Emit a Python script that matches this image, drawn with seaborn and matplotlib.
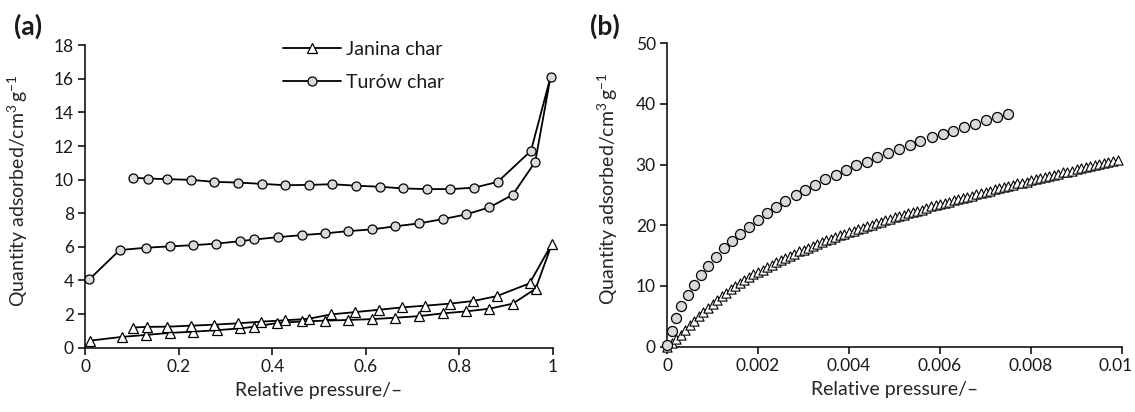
import matplotlib
matplotlib.use("Agg")
import matplotlib.pyplot as plt
import matplotlib.transforms as mtransforms
import seaborn as sns
import pandas as pd

# ---------------- data: panel (a) ----------------
turow_ads_x = [0.009, 0.074, 0.130, 0.181, 0.230, 0.279, 0.332, 0.362, 0.413, 0.463, 0.512,
               0.563, 0.613, 0.662, 0.714, 0.764, 0.814, 0.864, 0.914, 0.962, 0.995]
turow_ads_y = [4.06, 5.81, 5.95, 6.03, 6.10, 6.19, 6.34, 6.44, 6.58, 6.70, 6.80,
               6.94, 7.04, 7.22, 7.40, 7.65, 7.93, 8.35, 9.10, 11.06, 16.14]
turow_des_x = [0.953, 0.882, 0.831, 0.781, 0.730, 0.679, 0.630, 0.580, 0.528, 0.479,
               0.428, 0.379, 0.326, 0.276, 0.227, 0.176, 0.135, 0.103]
turow_des_y = [11.72, 9.87, 9.52, 9.44, 9.44, 9.48, 9.58, 9.64, 9.73, 9.69,
               9.67, 9.75, 9.83, 9.87, 9.99, 10.03, 10.07, 10.11]

janina_ads_x = [0.011, 0.078, 0.130, 0.181, 0.230, 0.281, 0.332, 0.362, 0.411, 0.463, 0.512,
                0.563, 0.613, 0.662, 0.714, 0.764, 0.814, 0.864, 0.914, 0.963, 0.998]
janina_ads_y = [0.42, 0.64, 0.76, 0.88, 0.95, 1.04, 1.15, 1.25, 1.47, 1.56, 1.61,
                1.65, 1.70, 1.78, 1.88, 2.04, 2.16, 2.32, 2.62, 3.51, 6.20]
janina_des_x = [0.950, 0.880, 0.830, 0.779, 0.727, 0.678, 0.629, 0.578, 0.525, 0.478,
                0.427, 0.377, 0.326, 0.276, 0.226, 0.176, 0.133, 0.102]
janina_des_y = [3.83, 3.07, 2.78, 2.62, 2.50, 2.40, 2.26, 2.12, 1.98, 1.72,
                1.63, 1.55, 1.45, 1.37, 1.31, 1.25, 1.24, 1.20]

# ---------------- data: panel (b) ----------------
turow_low_x = [0.0, 0.0001, 0.0002, 0.0003, 0.00045, 0.0006, 0.00074, 0.0009, 0.00108, 0.00125,
               0.00142, 0.00161, 0.0018, 0.0020, 0.0022, 0.0024, 0.0026, 0.00283, 0.00304, 0.00326,
               0.00348, 0.00371, 0.00393, 0.00416, 0.00439, 0.00462, 0.00485, 0.0051, 0.00533, 0.00557,
               0.00582, 0.00606, 0.00629, 0.00653, 0.00677, 0.00701, 0.00726, 0.0075]
turow_low_y = [0.2, 2.6, 4.8, 6.75, 8.56, 10.2, 11.8, 13.3, 14.8, 16.2,
               17.45, 18.55, 19.8, 20.9, 22.0, 23.05, 24.0, 25.0, 25.8, 26.7,
               27.55, 28.3, 29.15, 29.85, 30.5, 31.2, 31.9, 32.55, 33.2, 33.9,
               34.5, 35.1, 35.6, 36.2, 36.7, 37.3, 37.8, 38.3]

janina_low_x = [0.0000, 0.0001, 0.0002, 0.0003, 0.0004, 0.0005, 0.0006, 0.0007, 0.0008, 0.0009,
                0.0010, 0.0011, 0.0012, 0.0013, 0.0014, 0.0015, 0.0016, 0.0017, 0.0018, 0.0019,
                0.0020, 0.0021, 0.0022, 0.0023, 0.0024, 0.0025, 0.0026, 0.0027, 0.0028, 0.0029,
                0.0030, 0.0031, 0.0032, 0.0033, 0.0034, 0.0035, 0.0036, 0.0037, 0.0038, 0.0039,
                0.0040, 0.0041, 0.0042, 0.0043, 0.0044, 0.0045, 0.0046, 0.0047, 0.0048, 0.0049,
                0.0050, 0.0051, 0.0052, 0.0053, 0.0054, 0.0055, 0.0056, 0.0057, 0.0058, 0.0059,
                0.0060, 0.0061, 0.0062, 0.0063, 0.0064, 0.0065, 0.0066, 0.0067, 0.0068, 0.0069,
                0.0070, 0.0071, 0.0072, 0.0073, 0.0074, 0.0075, 0.0076, 0.0077, 0.0078, 0.0079,
                0.0080, 0.0081, 0.0082, 0.0083, 0.0084, 0.0085, 0.0086, 0.0087, 0.0088, 0.0089,
                0.0090, 0.0091, 0.0092, 0.0093, 0.0094, 0.0095, 0.0096, 0.0097, 0.0098, 0.0099]
janina_low_y = [0.0, 0.6, 1.3, 2.0, 2.8, 3.6, 4.3, 5.0, 5.7, 6.4,
                7.1, 7.7, 8.3, 8.9, 9.5, 10.0, 10.5, 11.0, 11.4, 11.9,
                12.3, 12.7, 13.1, 13.5, 13.9, 14.3, 14.6, 15.0, 15.3, 15.7,
                16.0, 16.3, 16.6, 16.9, 17.2, 17.5, 17.8, 18.1, 18.4, 18.6,
                18.9, 19.1, 19.4, 19.6, 19.9, 20.1, 20.4, 20.6, 20.8, 21.1,
                21.3, 21.5, 21.7, 22.0, 22.2, 22.4, 22.6, 22.8, 23.1, 23.3,
                23.5, 23.7, 23.9, 24.1, 24.3, 24.5, 24.7, 24.9, 25.1, 25.3,
                25.5, 25.7, 25.9, 26.1, 26.3, 26.5, 26.7, 26.9, 27.0, 27.2,
                27.4, 27.6, 27.8, 27.9, 28.1, 28.3, 28.5, 28.7, 28.8, 29.0,
                29.2, 29.4, 29.6, 29.7, 29.9, 30.1, 30.3, 30.4, 30.6, 30.8]

series_labels = ["Janina char", "Turów char"]
xticks_a = [0, 0.2, 0.4, 0.6, 0.8, 1.0]
xticklabels_a = ["0", "0.2", "0.4", "0.6", "0.8", "1"]
yticks_a = [0, 2, 4, 6, 8, 10, 12, 14, 16, 18]
xticks_b = [0, 0.002, 0.004, 0.006, 0.008, 0.010]
xticklabels_b = ["0", "0.002", "0.004", "0.006", "0.008", "0.01"]
yticks_b = [0, 10, 20, 30, 40, 50]
xlabel_text = "Relative pressure/\u2013"
ylabel_text = r"Quantity adsorbed/cm$^{3}\,$g$^{-1}$"

# ---------------- style ----------------
sns.set_style("ticks")
plt.rcParams["font.family"] = ["Lato", "DejaVu Sans"]
plt.rcParams["mathtext.fontset"] = "custom"
plt.rcParams["mathtext.rm"] = "Lato"
plt.rcParams["mathtext.it"] = "Lato:italic"
plt.rcParams["mathtext.bf"] = "Lato:bold"
plt.rcParams["axes.edgecolor"] = "black"
plt.rcParams["axes.linewidth"] = 1.1
plt.rcParams["xtick.color"] = "black"
plt.rcParams["ytick.color"] = "black"
plt.rcParams["text.color"] = "#1a1a1a"
plt.rcParams["xtick.labelcolor"] = "#1a1a1a"
plt.rcParams["ytick.labelcolor"] = "#1a1a1a"

GRAY = "#d9d9d9"
TICK_FS = 12.5
LABEL_FS = 14

fig = plt.figure(figsize=(11.35, 4.12), dpi=100)
ax1 = fig.add_axes([0.0749, 0.1561, 0.4123, 0.734])
ax2 = fig.add_axes([0.5877, 0.1585, 0.4009, 0.7367])

# ---------------- panel (a) ----------------
df_j = pd.DataFrame({"x": janina_ads_x + janina_des_x, "y": janina_ads_y + janina_des_y})
df_t = pd.DataFrame({"x": turow_ads_x + turow_des_x, "y": turow_ads_y + turow_des_y})

sns.lineplot(data=df_j, x="x", y="y", sort=False, estimator=None, ax=ax1,
             color="black", linewidth=1.3, marker="^", markersize=7.5,
             markerfacecolor="white", markeredgecolor="black", markeredgewidth=0.9,
             label=series_labels[0], clip_on=False, zorder=3)
sns.lineplot(data=df_t, x="x", y="y", sort=False, estimator=None, ax=ax1,
             color="black", linewidth=1.3, marker="o", markersize=6.5,
             markerfacecolor=GRAY, markeredgecolor="black", markeredgewidth=0.9,
             label=series_labels[1], clip_on=False, zorder=3)

ax1.set_xlim(0, 1)
ax1.set_ylim(0, 18)
ax1.set_xticks(xticks_a)
ax1.set_xticklabels(xticklabels_a)
ax1.set_yticks(yticks_a)

leg = ax1.legend(loc="upper left", bbox_to_anchor=(0.423, 1.015), frameon=False,
                 fontsize=LABEL_FS, handlelength=3.0, handletextpad=0.25,
                 labelspacing=0.85, borderpad=0, borderaxespad=0)

# ---------------- panel (b) ----------------
df_jb = pd.DataFrame({"x": janina_low_x, "y": janina_low_y})
df_tb = pd.DataFrame({"x": turow_low_x, "y": turow_low_y})

sns.scatterplot(data=df_jb, x="x", y="y", ax=ax2, marker="^", s=44,
                facecolor="white", edgecolor="black", linewidth=0.8,
                clip_on=False, zorder=3)
sns.scatterplot(data=df_tb, x="x", y="y", ax=ax2, marker="o", s=52,
                facecolor=GRAY, edgecolor="black", linewidth=0.9,
                clip_on=False, zorder=4)

ax2.set_xlim(0, 0.01)
ax2.set_ylim(0, 50)
ax2.set_xticks(xticks_b)
ax2.set_xticklabels(xticklabels_b)
ax2.set_yticks(yticks_b)

# ---------------- common styling ----------------
for ax, ylx in [(ax1, -0.118), (ax2, -0.104)]:
    sns.despine(ax=ax)
    ax.tick_params(axis="both", direction="out", length=5, width=1.1,
                   labelsize=TICK_FS, pad=3)
    ax.set_xlabel(xlabel_text, fontsize=LABEL_FS)
    ax.set_ylabel(ylabel_text, fontsize=LABEL_FS)
    ax.yaxis.set_label_coords(ylx, 0.52)
    ax.xaxis.set_label_coords(0.5, -0.112)
    ax.xaxis.label.set_va("top")

# keep the last tick label of panel (b) inside the canvas
last = ax2.get_xticklabels()[-1]
last.set_transform(last.get_transform() +
                   mtransforms.ScaledTranslation(-5 / 72, 0, fig.dpi_scale_trans))

fig.text(14 / 1135, 1 - 26 / 412, "(a)", fontsize=19, fontweight="bold",
         ha="left", va="center")
fig.text(590 / 1135, 1 - 26 / 412, "(b)", fontsize=19, fontweight="bold",
         ha="left", va="center")

fig.savefig("out.png", dpi=100)
